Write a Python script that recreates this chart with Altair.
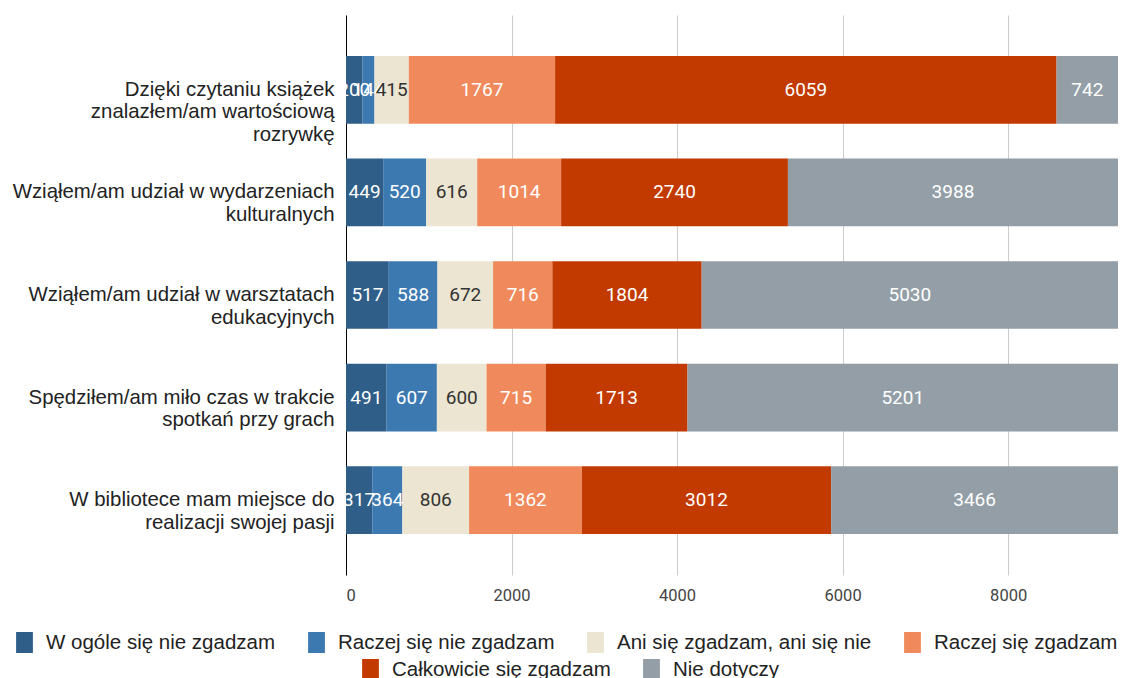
import altair as alt
import pandas as pd

categories = [
    "Dzięki czytaniu książek\nznalazłem/am wartościową\nrozrywkę",
    "Wziąłem/am udział w wydarzeniach\nkulturalnych",
    "Wziąłem/am udział w warsztatach\nedukacyjnych",
    "Spędziłem/am miło czas w trakcie\nspotkań przy grach",
    "W bibliotece mam miejsce do\nrealizacji swojej pasji",
]
series = [
    "W ogóle się nie zgadzam",
    "Raczej się nie zgadzam",
    "Ani się zgadzam, ani się nie",
    "Raczej się zgadzam",
    "Całkowicie się zgadzam",
    "Nie dotyczy",
]
w_ogole = [200, 449, 517, 491, 317]
raczej_nie = [144, 520, 588, 607, 364]
ani = [415, 616, 672, 600, 806]
raczej_tak = [1767, 1014, 716, 715, 1362]
calkowicie = [6059, 2740, 1804, 1713, 3012]
nie_dotyczy = [742, 3988, 5030, 5201, 3466]
colors = ["#2f5e88", "#3c79b1", "#ebe5d1", "#f08a5c", "#c23a00", "#939ea6"]
x_ticks = [0, 2000, 4000, 6000, 8000]

values = [w_ogole, raczej_nie, ani, raczej_tak, calkowicie, nie_dotyczy]
rows = []
for i, c in enumerate(categories):
    for j, s in enumerate(series):
        rows.append({"cat": c, "series": s, "order": j, "value": values[j][i]})
df = pd.DataFrame(rows)
total = max(sum(v[i] for v in values) for i in range(len(categories)))

base = alt.Chart(df).transform_stack(
    stack="value", groupby=["cat"],
    sort=[alt.SortField("order", order="ascending")],
    as_=["x0", "x1"],
).transform_calculate(mid="(datum.x0 + datum.x1) / 2")

x_axis = alt.Axis(title=None, values=x_ticks, format="d", grid=True, gridColor="#cccccc",
                  domain=False, ticks=False, labelFont="Roboto", labelFontSize=16.5,
                  labelColor="#444444", labelPadding=12)
x_scale = alt.Scale(domain=[0, total], nice=False)
y_enc = alt.Y("cat:N", sort=categories,
              scale=alt.Scale(paddingInner=0.34, paddingOuter=0.4),
              axis=alt.Axis(title=None, labelExpr="split(datum.label, '\\n')",
                            labelFont="Liberation Sans", labelFontSize=20.4,
                            labelColor="#222222", labelLineHeight=22.5, ticks=False,
                            domain=True, domainColor="#000000", domainWidth=1,
                            labelPadding=12, labelLimit=500))

legend_common = dict(title=None, orient="none", direction="horizontal",
                     labelFont="Liberation Sans", labelFontSize=20.5, labelColor="#222222",
                     symbolType="M-0.8,-1H0.8V1H-0.8Z", symbolSize=441,
                     symbolStrokeWidth=0, columnPadding=30, labelOffset=11,
                     labelLimit=400)

bars1 = base.transform_filter("datum.order < 4").mark_bar().encode(
    x=alt.X("x0:Q", scale=x_scale, axis=x_axis),
    x2="x1:Q",
    y=y_enc,
    color=alt.Color("series:N", scale=alt.Scale(domain=series[:4], range=colors[:4]),
                    legend=alt.Legend(legendX=-332, legendY=617, **legend_common)),
)
bars2 = base.transform_filter("datum.order >= 4").mark_bar().encode(
    x=alt.X("x0:Q", scale=x_scale, axis=x_axis),
    x2="x1:Q",
    y=y_enc,
    color=alt.Color("series:N", scale=alt.Scale(domain=series[4:], range=colors[4:]),
                    legend=alt.Legend(legendX=14, legendY=644, **legend_common)),
)
text = base.mark_text(font="Roboto", fontSize=19, baseline="middle", align="center").encode(
    x=alt.X("mid:Q", scale=x_scale, axis=x_axis),
    y=y_enc,
    text="value:Q",
    color=alt.condition("datum.order == 2", alt.value("#333333"), alt.value("#ffffff")),
)

chart = alt.layer(bars1, bars2, text).resolve_scale(color="independent").properties(
    width=772, height=560,
    autosize=alt.AutoSizeParams(type="none"),
    padding={"left": 338, "top": 7, "right": 6, "bottom": 103},
    background="white",
).configure_view(stroke=None)

chart.save("out.html", embed_options={"renderer": "svg", "actions": False})
